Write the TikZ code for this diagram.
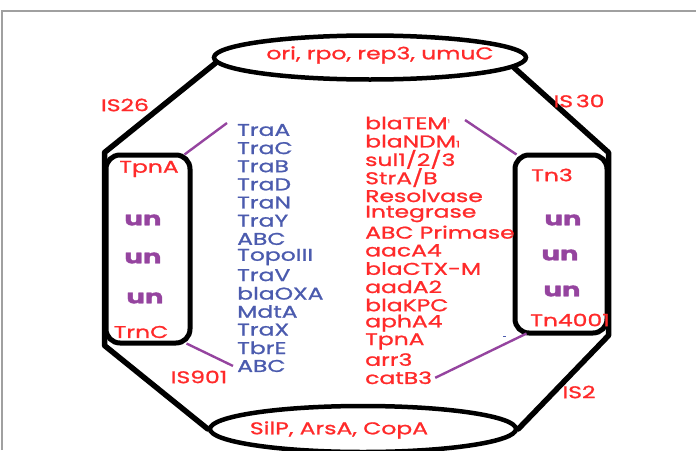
\documentclass[tikz,border=0pt]{standalone}
\usepackage{fontspec}
\usetikzlibrary{shapes.geometric}
\newfontfamily\wf[FakeStretch=1.38,FakeBold=1.2]{Poppins}
\newfontfamily\unf[FakeStretch=1.45,FakeBold=2]{Poppins}
\definecolor{gred}{HTML}{FF2A2A}
\definecolor{gblue}{HTML}{4B5BAE}
\definecolor{gpurp}{HTML}{95449F}
\definecolor{gframe}{HTML}{A0A0A0}
\begin{document}
\begin{tikzpicture}[x=1pt,y=-1pt,
  outerline/.style={line width=5.5pt, line join=round, line cap=round},
  boxline/.style={draw, line width=5pt, rounded corners=14pt, inner sep=0pt},
  ellipsebox/.style={draw, ellipse, line width=4.5pt, inner sep=0pt},
  plink/.style={gpurp, line width=2.4pt},
  redtxt/.style={text=gred, font=\wf\fontsize{17}{17}\selectfont, inner sep=0pt},
  bluetxt/.style={text=gblue, font=\wf\fontsize{17}{17}\selectfont, inner sep=0pt, anchor=west},
  redlist/.style={redtxt, anchor=west},
  untxt/.style={text=gpurp, font=\unf\bfseries\fontsize{19}{19}\selectfont, inner sep=0pt}]
\useasboundingbox (0,0) rectangle (696,450);
\draw[gframe, line width=1.6pt] (2,450) -- (2,11) -- (696,11);

% ellipses and boxes
\node[ellipsebox, minimum width=312pt, minimum height=44pt] (top) at (370,57.5) {};
\node[ellipsebox, minimum width=306pt, minimum height=46pt] (bot) at (363,429) {};
\node[boxline, minimum width=84pt, minimum height=188pt] (lbox) at (148,249) {};
\node[boxline, minimum width=92pt, minimum height=178pt] (rbox) at (561,244) {};

% outer octagon
\draw[outerline] (top.182) -- ([xshift=1pt]lbox.north west) -- ([xshift=1pt]lbox.south west) -- (bot.west);
\draw[outerline] (top.-4) -- ([xshift=-1pt]rbox.north east) -- ([xshift=-1pt]rbox.south east) -- (bot.east);

% ellipse texts
\node[redtxt] (ttop) at (380,55) {ori, rpo, rep3, umuC};
\node[redtxt] (tbot) at (339,430) {SilP, ArsA, CopA};

% IS labels
\node[redtxt] (is26) at (125,105) {IS26};
\node[redtxt] (is30) at (579,101) {IS\,30};
\node[redtxt] (is901) at (199,377) {IS901};
\node[redtxt] (is2) at (579,392) {IS2};

% box labels
\node[redtxt] (tpna) at (149,169) {TpnA};
\node[redtxt] (trnc) at (141,332) {TrnC};
\node[untxt] (lu1) at (143,220) {un};
\node[untxt] (lu2) at (143,258) {un};
\node[untxt] (lu3) at (145,298) {un};
\node[redtxt] (tn3) at (552,175) {Tn3};
\node[redtxt] (tn4001) at (570,320) {Tn4001};
\node[untxt] (ru1) at (563,220) {un};
\node[untxt] (ru2) at (560,255) {un};
\node[untxt] (ru3) at (562,291) {un};

% blue list
\foreach \t [count=\i from 0] in {TraA,TraC,TraB,TraD,TraN,TraY,ABC,TopoIII,TraV,blaOXA,MdtA,TraX,TbrE,ABC}
  \node[bluetxt] (b\i) at (237,130+18.15*\i) {\t};

% red list
\node[redlist] (r0) at (365,123) {blaTEM\raisebox{6pt}{\fontsize{5}{5}\selectfont 1}};
\node[redlist] (r1) at (365,141.2) {blaNDM{\fontsize{9}{9}\selectfont 1}};
\foreach \t [count=\i from 2] in {sul1/2/3,StrA/B,Resolvase,Integrase,ABC Primase,aacA4,blaCTX-M,aadA2,blaKPC,aphA4,TpnA,arr3,catB3}
  \node[redlist] (r\i) at (365,123+18.2*\i) {\t};

% purple links
\coordinate (lt) at (227,123);
\coordinate (rt) at (465,120);
\draw[plink] ([shift={(-8pt,-2pt)}]lbox.north east) -- (lt);
\draw[plink] ([shift={(-6pt,2pt)}]lbox.south east) -- ([xshift=-4pt]b13.west);
\draw[plink] (rt) -- ([shift={(4pt,-2pt)}]rbox.north west);
\draw[plink] ([xshift=3pt]r14.east) -- ([shift={(14pt,2pt)}]rbox.south west);
\coordinate (dash) at (503,336);
\draw[gblue, line width=1pt] (dash) -- ++(3,0);
\end{tikzpicture}
\end{document}
